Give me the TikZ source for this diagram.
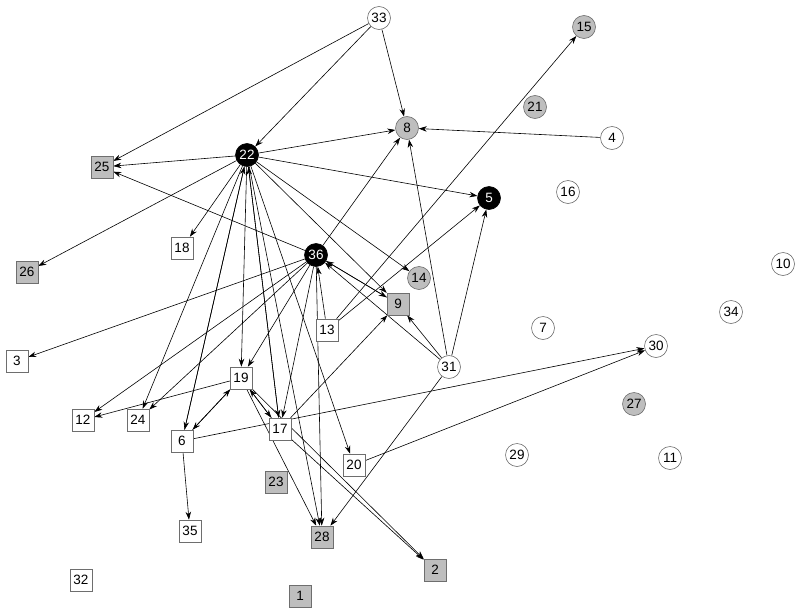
\documentclass[tikz,border=0pt]{standalone}
\usepackage{fontspec}
\setmainfont{Liberation Sans}
\usepackage{tikz}
\usetikzlibrary{arrows.meta, backgrounds}
\definecolor{nodegray}{RGB}{190,190,190}
\definecolor{rimgray}{RGB}{110,110,110}

\begin{document}
\begin{tikzpicture}[
    x=1pt, y=-1pt,
    circ/.style={circle, draw=rimgray, fill=#1, line width=0.6pt,
        minimum size=23pt, inner sep=0pt, font=\fontsize{13.5}{15}\selectfont},
    sq/.style={rectangle, draw=rimgray, fill=#1, line width=0.6pt,
        minimum size=22pt, inner sep=0pt, font=\fontsize{13.5}{15}\selectfont},
    hub/.style={circle, draw=black, fill=black, text=white, line width=0.6pt,
        minimum size=23pt, inner sep=0pt, font=\fontsize{13.5}{15}\selectfont},
    arr/.style={-{Stealth[length=8pt, width=5.5pt]}, line width=0.6pt},
]
\useasboundingbox (0,0) rectangle (800,613);

% Hubs
\node[hub] (v22) at (247,155) {22};
\node[hub] (v36) at (316,255) {36};
\node[hub] (v5) at (489,198) {5};

% Circles
\node[circ=white] (v33) at (379,18) {33};
\node[circ=nodegray] (v15) at (584,27) {15};
\node[circ=nodegray] (v21) at (535,107) {21};
\node[circ=nodegray] (v8) at (407,128) {8};
\node[circ=white] (v4) at (612,138) {4};
\node[circ=white] (v16) at (568,192) {16};
\node[circ=nodegray] (v14) at (419,278) {14};
\node[circ=white] (v10) at (783,264) {10};
\node[circ=white] (v34) at (731,312) {34};
\node[circ=white] (v7) at (543,328) {7};
\node[circ=white] (v30) at (656,346) {30};
\node[circ=white] (v31) at (449,367) {31};
\node[circ=nodegray] (v27) at (634,404) {27};
\node[circ=white] (v29) at (517,455) {29};
\node[circ=white] (v11) at (670,458) {11};

% Squares
\node[sq=nodegray] (v25) at (102,167) {25};
\node[sq=white] (v18) at (182,248) {18};
\node[sq=nodegray] (v26) at (27,272) {26};
\node[sq=nodegray] (v9) at (398,304) {9};
\node[sq=white] (v13) at (327,330) {13};
\node[sq=white] (v3) at (17,361) {3};
\node[sq=white] (v19) at (241,378) {19};
\node[sq=white] (v12) at (83,420) {12};
\node[sq=white] (v24) at (138,420) {24};
\node[sq=white] (v6) at (182,441) {6};
\node[sq=white] (v17) at (280,429) {17};
\node[sq=white] (v20) at (354,465) {20};
\node[sq=nodegray] (v23) at (276,482) {23};
\node[sq=white] (v35) at (190,531) {35};
\node[sq=nodegray] (v28) at (322,537) {28};
\node[sq=nodegray] (v2) at (435,570) {2};
\node[sq=white] (v32) at (81,580) {32};
\node[sq=nodegray] (v1) at (300,596) {1};

\begin{scope}[on background layer]
% From 33 and 4
\draw[arr] (v33) -- (v25);
\draw[arr] (v33) -- (v22);
\draw[arr] (v33) -- (v8);
\draw[arr] (v4) -- (v8);

% From 22
\draw[arr] (v22) -- (v8);
\draw[arr] (v22) -- (v25);
\draw[arr] (v22) -- (v5);
\draw[arr] (v22) -- (v26);
\draw[arr] (v22) -- (v18);
\draw[arr] (v22) -- (v14);
\draw[arr] (v22) -- (v9);
\draw[arr] (v22) -- (v24);
\draw[arr] (v22) -- (v6);
\draw[arr] (v22) -- (v19);
\draw[arr] (v22) -- (v17);
\draw[arr] (v22) -- (v28);
\draw[arr] (v22) -- (v20);
\draw[arr] (v6) -- (v22);
\draw[arr] (v17) -- (v22);

% From 36
\draw[arr] (v36) -- (v25);
\draw[arr] (v36) -- (v8);
\draw[arr] (v36) -- (v3);
\draw[arr] (v36) -- (v12);
\draw[arr] (v36) -- (v24);
\draw[arr] (v36) -- (v19);
\draw[arr] (v36) -- (v17);
\draw[arr] (v36) -- (v28);
\draw[arr] (v36) -- (v9);
\draw[arr] (v9) -- (v36);

% From 13 and 31
\draw[arr] (v13) -- (v36);
\draw[arr] (v13) -- (v15);
\draw[arr] (v13) -- (v5);
\draw[arr] (v31) -- (v8);
\draw[arr] (v31) -- (v5);
\draw[arr] (v31) -- (v9);
\draw[arr] (v31) -- (v36);
\draw[arr] (v31) -- (v28);

% Lower cluster
\draw[arr] (v19) -- (v12);
\draw[arr] (v19) -- (v6);
\draw[arr] (v6) -- (v19);
\draw[arr] (v19) -- (v17);
\draw[arr] (v17) -- (v19);
\draw[arr] (v19) -- (v28);
\draw[arr] (v19) -- (v2);
\draw[arr] (v17) -- (v9);
\draw[arr] (v17) -- (v2);
\draw[arr] (v6) -- (v30);
\draw[arr] (v6) -- (v35);
\draw[arr] (v20) -- (v30);
\end{scope}

\end{tikzpicture}
\end{document}
